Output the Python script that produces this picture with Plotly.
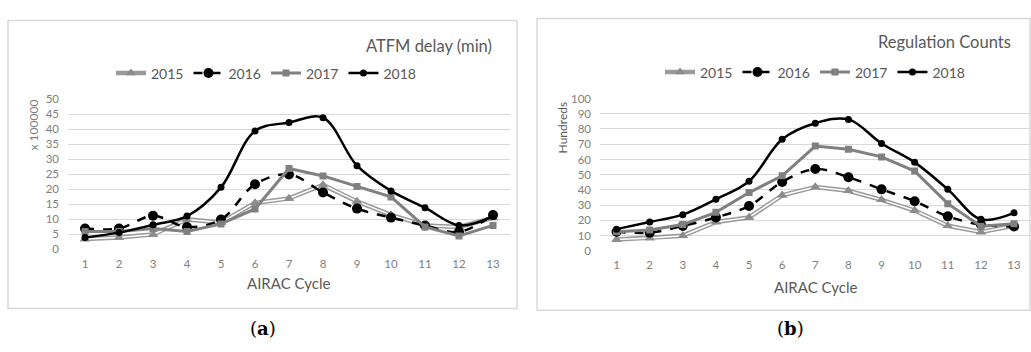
import plotly.graph_objects as go

cycles = list(range(1, 14))
years = ["2015", "2016", "2017", "2018"]

# (a) ATFM delay (min), x 100000
delay_2015 = [3.5, 4, 5, 10, 9, 15.5, 17, 21.5, 16, 11.5, 8, 7.5, 10.5]
delay_2016 = [7, 7, 11.2, 7.5, 10, 21.7, 25, 19, 13.6, 10.6, 8, 5.8, 11.5]
delay_2017 = [6, 6, 7, 6, 8.5, 13.5, 27, 24.5, 21, 17.5, 7.5, 4.5, 8]
delay_2018 = [4, 5.6, 8.2, 11.1, 20.7, 39.5, 42.3, 43.9, 27.9, 19.5, 13.9, 8, 11]

# (b) Regulation counts, hundreds
reg_2015 = [7.5, 8.5, 10, 19, 22, 36.5, 42, 39.5, 33.5, 26.5, 16.5, 12.5, 16.5]
reg_2016 = [12.6, 12, 16.4, 22, 29.5, 45.3, 53.7, 48.4, 40.4, 32.6, 22.7, 17.3, 16]
reg_2017 = [12.6, 13.7, 17.3, 25.3, 38.3, 49.3, 68.8, 66.7, 61.7, 52.4, 31, 16.2, 17.9]
reg_2018 = [14.3, 19, 23.8, 33.9, 45.7, 73.3, 83.8, 86.3, 70.5, 58.1, 40.4, 20.8, 25]

W, H = 1031, 352
FONT = "Lato"
TXT = "#595959"
TICK = "#7f7f7f"
GRID = "#d9d9d9"


def px(v):
    return v / W


def py(v):
    return (H - v) / H


fig = go.Figure()


def add_series(data, xa, ya, leg):
    d15, d16, d17, d18 = data
    # 2015: double line (gray with white core) + triangles
    fig.add_trace(go.Scatter(x=cycles, y=d15, xaxis=xa, yaxis=ya, legend=leg, name="2015",
                             mode="lines+markers", line=dict(color="#9a9a9a", width=4.5),
                             marker=dict(symbol="triangle-up", size=9, color="#8c8c8c")))
    fig.add_trace(go.Scatter(x=cycles, y=d15, xaxis=xa, yaxis=ya, legend=leg, showlegend=False,
                             mode="lines", line=dict(color="white", width=1.5), hoverinfo="skip"))
    fig.add_trace(go.Scatter(x=cycles, y=d15, xaxis=xa, yaxis=ya, legend=leg, showlegend=False,
                             mode="markers", marker=dict(symbol="triangle-up", size=9, color="#8c8c8c"),
                             hoverinfo="skip"))
    fig.add_trace(go.Scatter(x=cycles, y=d16, xaxis=xa, yaxis=ya, legend=leg, name="2016",
                             mode="lines+markers", line=dict(color="black", width=2.5, dash="dash", shape="spline"),
                             marker=dict(symbol="circle", size=10, color="black")))
    fig.add_trace(go.Scatter(x=cycles, y=d17, xaxis=xa, yaxis=ya, legend=leg, name="2017",
                             mode="lines+markers", line=dict(color="#808080", width=3),
                             marker=dict(symbol="square", size=7, color="#808080")))
    fig.add_trace(go.Scatter(x=cycles, y=d18, xaxis=xa, yaxis=ya, legend=leg, name="2018",
                             mode="lines+markers", line=dict(color="black", width=2.5, shape="spline"),
                             marker=dict(symbol="circle", size=7, color="black")))


add_series((delay_2015, delay_2016, delay_2017, delay_2018), "x", "y", "legend")
add_series((reg_2015, reg_2016, reg_2017, reg_2018), "x2", "y2", "legend2")

axis_common = dict(showline=False, zeroline=False, tickfont=dict(family=FONT, size=11.5, color=TICK),
                   fixedrange=True)
xcommon = dict(axis_common, tickmode="array", tickvals=cycles, range=[0.5, 13.5], showgrid=False,
               ticklabelstandoff=6)
ycommon = dict(axis_common, showgrid=True, gridcolor=GRID, gridwidth=1, ticklabelstandoff=8)

fig.update_layout(
    width=W, height=H, margin=dict(l=0, r=0, t=0, b=0),
    paper_bgcolor="white", plot_bgcolor="white",
    showlegend=True,
    xaxis=dict(xcommon, domain=[px(68), px(510)], anchor="y"),
    yaxis=dict(ycommon, domain=[py(251.7), py(96)], range=[0, 50], dtick=5, anchor="x"),
    xaxis2=dict(xcommon, domain=[px(600), px(1030.6)], anchor="y2"),
    yaxis2=dict(ycommon, domain=[py(253.3), py(95)], range=[0, 100], dtick=10, anchor="x2"),
    legend=dict(orientation="h", x=px(266), y=py(69), xanchor="center", yanchor="middle",
                font=dict(family=FONT, size=14, color=TXT), bgcolor="rgba(0,0,0,0)",
                itemwidth=30, tracegroupgap=0),
    legend2=dict(orientation="h", x=px(815), y=py(68), xanchor="center", yanchor="middle",
                 font=dict(family=FONT, size=14, color=TXT), bgcolor="rgba(0,0,0,0)",
                 itemwidth=30, tracegroupgap=0),
    shapes=[
        dict(type="rect", xref="paper", yref="paper", x0=px(8), x1=px(517), y0=py(313), y1=py(14),
             line=dict(color="#d9d9d9", width=1.5), layer="below"),
        dict(type="rect", xref="paper", yref="paper", x0=px(537), x1=px(1030), y0=py(315), y1=py(12),
             line=dict(color="#d9d9d9", width=1.5), layer="below"),
    ],
    annotations=[
        dict(text="ATFM delay (min)", xref="paper", yref="paper", x=px(494), y=py(41),
             xanchor="right", yanchor="middle", showarrow=False,
             font=dict(family=FONT, size=16.5, color=TXT)),
        dict(text="Regulation Counts", xref="paper", yref="paper", x=px(1013), y=py(36),
             xanchor="right", yanchor="middle", showarrow=False,
             font=dict(family=FONT, size=16.5, color=TXT)),
        dict(text="x 100000", xref="paper", yref="paper", x=px(33), y=py(123),
             xanchor="center", yanchor="middle", textangle=-90, showarrow=False,
             font=dict(family=FONT, size=12, color=TICK)),
        dict(text="Hundreds", xref="paper", yref="paper", x=px(562), y=py(125),
             xanchor="center", yanchor="middle", textangle=-90, showarrow=False,
             font=dict(family=FONT, size=12, color=TXT)),
        dict(text="AIRAC Cycle", xref="paper", yref="paper", x=px(288), y=py(287),
             xanchor="center", yanchor="middle", showarrow=False,
             font=dict(family=FONT, size=15, color=TXT)),
        dict(text="AIRAC Cycle", xref="paper", yref="paper", x=px(815), y=py(291),
             xanchor="center", yanchor="middle", showarrow=False,
             font=dict(family=FONT, size=15, color=TXT)),
        dict(text="(<b>a</b>)", xref="paper", yref="paper", x=px(263), y=py(334),
             xanchor="center", yanchor="middle", showarrow=False,
             font=dict(family="DejaVu Serif", size=18, color="black")),
        dict(text="(<b>b</b>)", xref="paper", yref="paper", x=px(790), y=py(334),
             xanchor="center", yanchor="middle", showarrow=False,
             font=dict(family="DejaVu Serif", size=18, color="black")),
    ],
)

fig.write_html("out.html", config={"displayModeBar": False},
               post_script="document.body.style.margin='0';document.body.style.overflow='hidden';")
